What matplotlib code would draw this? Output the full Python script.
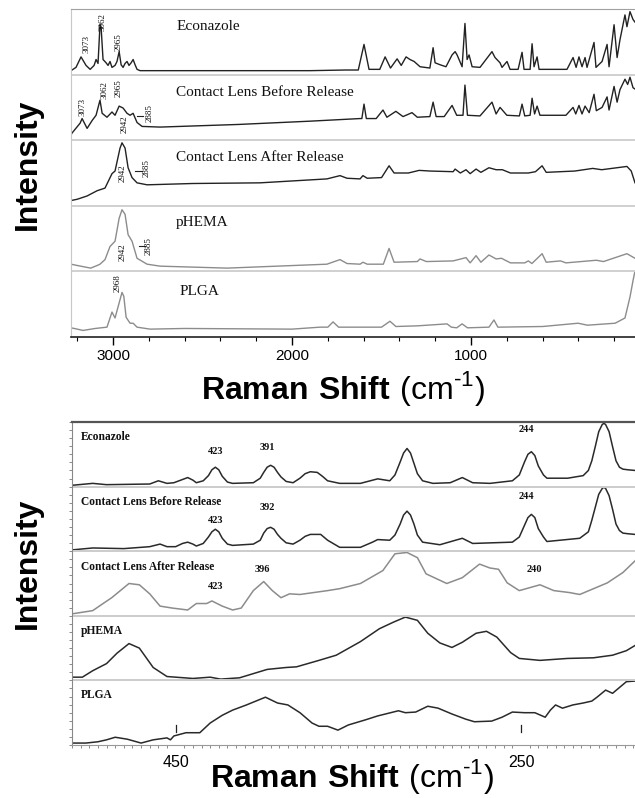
import matplotlib
matplotlib.use('Agg')
import matplotlib.pyplot as plt
import matplotlib.transforms as mtransforms
from matplotlib.ticker import MultipleLocator, FixedLocator

plt.rcParams['font.family'] = 'Liberation Sans'
plt.rcParams['mathtext.fontset'] = 'custom'
plt.rcParams['mathtext.rm'] = 'Liberation Sans'
plt.rcParams['mathtext.bf'] = 'Liberation Sans:bold'

# ---------------- data: full range spectra (top) ----------------
names = ['Econazole', 'Contact Lens Before Release', 'Contact Lens After Release', 'pHEMA', 'PLGA']

econ_top_x = [3235, 3207, 3179, 3151, 3128, 3106, 3095, 3084, 3073, 3067, 3056, 3039, 3028, 3017, 3006, 2989,
              2978, 2966, 2955, 2944, 2933, 2922, 2911, 2899, 2888, 2877, 2866, 2849, 2700, 2300, 1900, 1700,
              1630, 1598, 1570, 1510, 1480, 1450, 1413, 1390, 1363, 1341, 1318, 1285, 1230, 1212, 1201, 1173,
              1140, 1106, 1089, 1078, 1050, 1034, 1022, 1011, 994, 950, 883, 866, 838, 827, 799, 782, 737, 715,
              704, 670, 659, 648, 631, 620, 575, 464, 430, 413, 397, 380, 363, 352, 313, 302, 268, 240, 229, 201,
              184, 168, 140, 129, 112, 95, 84]
econ_top_y = [.06, .11, .27, .14, .08, .14, .23, .17, .76, .73, .23, .18, .14, .20, .11, .14,
              .20, .35, .15, .11, .17, .20, .14, .18, .23, .15, .08, .06, .06, .06, .06, .07,
              .07, .46, .08, .08, .27, .10, .24, .14, .27, .23, .20, .12, .10, .41, .18, .15,
              .12, .30, .35, .30, .12, .78, .23, .30, .12, .11, .35, .26, .18, .11, .20, .08, .08, .34,
              .08, .08, .47, .12, .27, .08, .08, .08, .26, .11, .27, .12, .26, .11, .49, .11, .20, .46, .12, .76,
              .26, .53, .91, .73, .96, .84, .80]

before_top_x = [3235, 3229, 3184, 3173, 3145, 3117, 3095, 3073, 3061, 3034, 3006, 2989, 2966, 2944, 2922, 2905,
                2888, 2866, 2838, 2737, 2300, 1900, 1620, 1610, 1598, 1585, 1530, 1492, 1470, 1420, 1380, 1330,
                1300, 1230, 1212, 1195, 1150, 1106, 1080, 1045, 1034, 1020, 950, 883, 860, 838, 800, 730, 715,
                700, 670, 659, 645, 631, 615, 560, 470, 430, 415, 397, 380, 363, 340, 313, 300, 268, 240, 229,
                201, 184, 168, 140, 125, 112, 95, 84]
before_top_y = [.08, .11, .26, .33, .18, .30, .38, .61, .41, .35, .43, .38, .52, .49, .41, .38,
                .41, .27, .21, .20, .24, .29, .33, .33, .55, .33, .33, .46, .35, .44, .36, .42,
                .35, .36, .58, .36, .36, .53, .38, .38, .84, .38, .37, .58, .40, .50, .38, .37, .55,
                .37, .38, .64, .40, .52, .38, .38, .38, .50, .40, .53, .40, .52, .42, .70, .45, .50, .66, .46,
                .82, .58, .77, .93, .85, .96, .80, .78]

after_top_x = [3235, 3200, 3145, 3089, 3045, 3006, 2989, 2961, 2950, 2933, 2916, 2894, 2866, 2810, 2553, 2179,
               1805, 1732, 1693, 1620, 1604, 1580, 1500, 1458, 1430, 1350, 1290, 1230, 1100, 1089, 1060, 1028,
               1005, 972, 945, 900, 860, 825, 780, 680, 640, 603, 580, 500, 420, 320, 270, 129, 105, 84]
after_top_y = [.08, .10, .15, .23, .27, .49, .53, .88, .96, .88, .58, .43, .35, .32, .34, .35,
               .41, .46, .42, .41, .46, .42, .43, .61, .50, .50, .54, .53, .52, .56, .50, .55,
               .49, .56, .51, .58, .55, .55, .50, .50, .52, .61, .51, .52, .53, .57, .55, .60, .53, .35]

phema_top_x = [3235, 3200, 3125, 3089, 3073, 3045, 3017, 2989, 2966, 2950, 2933, 2916, 2894, 2866, 2810, 2737,
               2363, 1805, 1732, 1693, 1620, 1604, 1580, 1490, 1458, 1430, 1300, 1285, 1250, 1100, 1028, 1005,
               972, 945, 900, 860, 830, 780, 700, 680, 660, 603, 580, 500, 470, 300, 260, 129, 84]
phema_top_y = [.11, .09, .05, .09, .11, .18, .38, .46, .81, .94, .87, .56, .46, .20, .11, .08,
               .05, .11, .18, .12, .11, .14, .11, .11, .35, .14, .15, .19, .15, .16, .21, .13,
               .24, .14, .25, .19, .20, .13, .13, .16, .12, .27, .14, .16, .13, .17, .15, .27, .20]

plga_top_x = [3235, 3200, 3168, 3100, 3034, 3006, 2989, 2950, 2940, 2927, 2905, 2888, 2866, 2793, 2600, 2000,
              1844, 1800, 1771, 1740, 1500, 1453, 1420, 1300, 1134, 1110, 1080, 1050, 1020, 900, 872, 850,
              600, 402, 350, 195, 140, 112, 95, 86]
plga_top_y = [.14, .12, .10, .13, .15, .38, .29, .68, .62, .30, .21, .21, .15, .12, .13, .12,
              .15, .15, .23, .15, .15, .24, .16, .17, .20, .15, .14, .20, .14, .15, .26, .15,
              .16, .21, .18, .21, .29, .61, .86, .98]

# ---------------- data: low wavenumber spectra (bottom) ----------------
econ_bot_x = [510, 498, 490, 465, 460, 455, 451, 446, 443, 440, 438, 434, 431, 429, 427, 425, 423, 420, 417,
              405, 401, 399, 397, 395, 393, 391, 389, 386, 382, 378, 375, 372, 368, 365, 362, 355, 343, 333,
              326, 323, 320, 318, 316, 314, 312, 310, 307, 301, 291, 284, 278, 268, 255, 251, 248, 246, 244,
              242, 240, 237, 235, 223, 214, 211, 209, 207, 205, 203, 202, 201, 199, 197, 195, 193, 191, 188, 184]
econ_bot_y = [.02, .05, .03, .04, .09, .05, .06, .11, .14, .10, .06, .09, .17, .26, .30, .26, .16, .07, .05,
              .06, .13, .22, .30, .33, .30, .22, .15, .08, .06, .13, .20, .23, .22, .16, .09, .05, .05, .12,
              .09, .18, .38, .52, .59, .52, .36, .20, .09, .05, .06, .14, .06, .05, .09, .18, .38, .50, .54,
              .48, .32, .18, .13, .13, .17, .25, .40, .62, .85, .96, .98, .96, .85, .62, .40, .30, .27, .26, .25]

before_bot_x = [510, 498, 480, 465, 459, 455, 450, 446, 443, 440, 438, 434, 431, 429, 427, 425, 423, 420, 417,
                405, 401, 399, 397, 395, 393, 391, 389, 386, 382, 378, 375, 372, 366, 362, 355, 343, 336, 333,
                326, 323, 320, 318, 316, 314, 312, 310, 307, 297, 284, 278, 255, 251, 248, 246, 244, 242, 240,
                237, 235, 216, 211, 209, 207, 205, 203, 202, 201, 199, 197, 195, 193, 191, 188, 184]
before_bot_y = [.02, .05, .04, .07, .11, .07, .07, .12, .14, .11, .08, .12, .22, .30, .34, .30, .20, .11, .09,
                .11, .17, .28, .35, .37, .34, .26, .20, .13, .11, .17, .23, .26, .26, .17, .06, .06, .14, .18,
                .17, .25, .42, .56, .62, .56, .42, .25, .14, .10, .20, .12, .14, .22, .40, .52, .57, .52, .35,
                .22, .15, .20, .30, .48, .68, .88, .97, .99, .97, .86, .65, .42, .32, .28, .27, .26]

after_bot_x = [510, 498, 492, 487, 477, 471, 465, 459, 452, 443, 438, 432, 429, 423, 417, 412, 405, 399, 394, 389,
               384, 378, 362, 355, 343, 330, 323, 316, 310, 305, 293, 284, 274, 268, 263, 258, 251, 239, 231, 222,
               216, 208, 200, 191, 184]
after_bot_y = [.03, .08, .19, .28, .50, .48, .34, .15, .12, .09, .19, .19, .23, .15, .09, .12, .39, .53, .39, .28,
               .34, .33, .39, .42, .50, .70, .96, .98, .90, .65, .50, .59, .80, .74, .72, .51, .39, .48, .39, .36,
               .33, .42, .51, .67, .85]

phema_bot_x = [510, 504, 498, 490, 484, 477, 471, 463, 455, 440, 430, 424, 413, 397, 386, 380, 367, 357, 349, 343,
               332, 324, 317, 310, 304, 297, 290, 284, 276, 270, 264, 256, 251, 239, 223, 208, 197, 189, 184]
phema_bot_y = [.05, .05, .15, .26, .42, .57, .50, .20, .06, .03, .05, .02, .04, .17, .20, .21, .31, .39, .51, .60,
               .80, .90, .98, .93, .73, .58, .51, .59, .73, .76, .67, .43, .34, .31, .34, .35, .39, .46, .54]

plga_bot_x = [510, 502, 495, 490, 485, 478, 470, 463, 455, 453, 451, 444, 436, 430, 423, 417, 409, 398, 391, 385,
              378, 371, 367, 362, 356, 350, 340, 333, 321, 317, 311, 304, 298, 290, 282, 277, 267, 261, 255, 248,
              242, 236, 233, 230, 226, 220, 214, 209, 206, 201, 197, 189, 184]
plga_bot_y = [.03, .03, .05, .08, .12, .09, .03, .08, .11, .08, .14, .19, .19, .34, .46, .54, .62, .74, .65, .62,
              .50, .34, .29, .29, .23, .31, .39, .45, .53, .50, .51, .60, .57, .48, .40, .36, .37, .43, .51, .50,
              .50, .43, .54, .62, .57, .62, .65, .68, .74, .85, .80, .98, .99]

top_series = [(econ_top_x, econ_top_y), (before_top_x, before_top_y), (after_top_x, after_top_y),
              (phema_top_x, phema_top_y), (plga_top_x, plga_top_y)]
bot_series = [(econ_bot_x, econ_bot_y), (before_bot_x, before_bot_y), (after_bot_x, after_bot_y),
              (phema_bot_x, phema_bot_y), (plga_bot_x, plga_bot_y)]
top_colors = ['#222222', '#222222', '#222222', '#8c8c8c', '#8c8c8c']
bot_colors = ['#2a2a2a', '#2a2a2a', '#8c8c8c', '#2a2a2a', '#2a2a2a']

# peak labels: (text, x, y in panel units)
top_peaks = [('3073', 3151, 4.47), ('3062', 3061, 4.80), ('2965', 2966, 4.49),
             ('3073', 3168, 3.51), ('3062', 3045, 3.77), ('2965', 2966, 3.80), ('2942', 2933, 3.25),
             ('2885', 2793, 3.41), ('2942', 2944, 2.50), ('2885', 2810, 2.58),
             ('2942', 2944, 1.30), ('2885', 2799, 1.39), ('2968', 2972, 0.82)]
top_dashes = [(2866, 2832, 3.37), (2877, 2838, 2.53), (2855, 2821, 1.39)]
bot_peaks = [('423', 427, 4.55), ('391', 397, 4.60), ('244', 247, 4.88),
             ('392', 397, 3.67), ('423', 427, 3.47), ('244', 247, 3.85),
             ('396', 400, 2.72), ('423', 427, 2.45), ('240', 242, 2.71)]
top_name_y = [4.73, 3.72, 2.74, 1.75, 0.70]
bot_name_y = [4.77, 3.76, 2.76, 1.76, 0.77]

serif = 'Liberation Serif'

fig = plt.figure(figsize=(6.35, 7.98), dpi=100)

# ---------------- top panel ----------------
ax1 = fig.add_axes([71 / 635, (798 - 337) / 798, 564 / 635, 328 / 798])
for i, (xs, ys) in enumerate(top_series):
    off = 4 - i
    ax1.plot(xs, [v + off for v in ys], color=top_colors[i], lw=1.0)
for k in range(1, 5):
    ax1.axhline(k, color='#c8c8c8', lw=1.2)
ax1.set_xlim(3235, 84)
ax1.set_ylim(0, 5)
ax1.set_yticks([])
ax1.xaxis.set_major_locator(FixedLocator([3000, 2000, 1000]))
ax1.xaxis.set_minor_locator(MultipleLocator(200))
ax1.tick_params(axis='x', which='major', length=6, width=1, labelsize=11, pad=3, direction='out')
ax1.tick_params(axis='x', which='minor', length=3, width=0.8, direction='out')
ax1.spines['right'].set_visible(False)
ax1.spines['top'].set_color('#a0a0a0')
ax1.spines['left'].set_color('#c8c8c8')
ax1.spines['bottom'].set_color('#222222')
ax1.spines['bottom'].set_linewidth(1.2)
for i, name in enumerate(names):
    xn = 2626 if name == 'PLGA' else 2648
    ax1.text(xn, top_name_y[i], name, family=serif, fontsize=11, va='center', ha='left', color='#111111')
for t, x, y in top_peaks:
    ax1.text(x, y, t, family=serif, fontsize=6.5, rotation=90, ha='center', va='center', color='#111111')
for x0, x1, y in top_dashes:
    ax1.plot([x0, x1], [y, y], color='#222222', lw=0.8)

# ---------------- bottom panel ----------------
ax2 = fig.add_axes([72 / 635, (798 - 745) / 798, 563 / 635, 323 / 798])
for i, (xs, ys) in enumerate(bot_series):
    off = 4 - i
    ax2.plot(xs, [v + off for v in ys], color=bot_colors[i], lw=1.1)
for k in range(1, 5):
    ax2.axhline(k, color='#cccccc', lw=1.4)
ax2.set_xlim(510, 184)
ax2.set_ylim(0, 5)
ax2.xaxis.set_major_locator(FixedLocator([450, 250]))
ax2.xaxis.set_minor_locator(MultipleLocator(5))
ax2.tick_params(axis='x', which='major', length=0, labelsize=11.5, pad=7)
ax2.tick_params(axis='x', which='minor', length=2, width=0.6, color='#777777', direction='out')
ax2.yaxis.set_major_locator(FixedLocator([]))
ax2.yaxis.set_minor_locator(MultipleLocator(0.125))
ax2.tick_params(axis='y', which='minor', length=2, width=0.6, color='#777777', direction='out')
ax2.spines['right'].set_visible(False)
ax2.spines['top'].set_color('#555555')
ax2.spines['top'].set_linewidth(1.6)
ax2.spines['left'].set_color('#888888')
ax2.spines['bottom'].set_color('#999999')
trans = mtransforms.blended_transform_factory(ax2.transAxes, ax2.transData)
for i, name in enumerate(names):
    ax2.text(0.016, bot_name_y[i], name, transform=trans, family=serif, fontsize=8.3, fontweight='bold',
             va='center', ha='left', color='#111111')
for t, x, y in bot_peaks:
    ax2.text(x, y, t, family=serif, fontsize=7.5, fontweight='bold', ha='center', va='center', color='#111111')
for xm in [450, 250]:
    ax2.plot([xm, xm], [0.20, 0.31], color='#222222', lw=0.9)

# ---------------- axis titles ----------------
title = r'$\mathbf{Raman\ Shift}\ \mathrm{(cm}^{\text{-1}}\mathrm{)}$'
fig.text(343 / 635, 1 - 399 / 798, title, fontsize=23, ha='center', va='baseline')
fig.text(352 / 635, 1 - 787 / 798, title, fontsize=23, ha='center', va='baseline')
fig.text(28 / 635, 1 - 164 / 798, 'Intensity', fontsize=23, fontweight='bold', rotation=90,
         ha='center', va='center')
fig.text(28 / 635, 1 - 563 / 798, 'Intensity', fontsize=23, fontweight='bold', rotation=90,
         ha='center', va='center')

fig.savefig('out.png', dpi=100)
plt.close()
